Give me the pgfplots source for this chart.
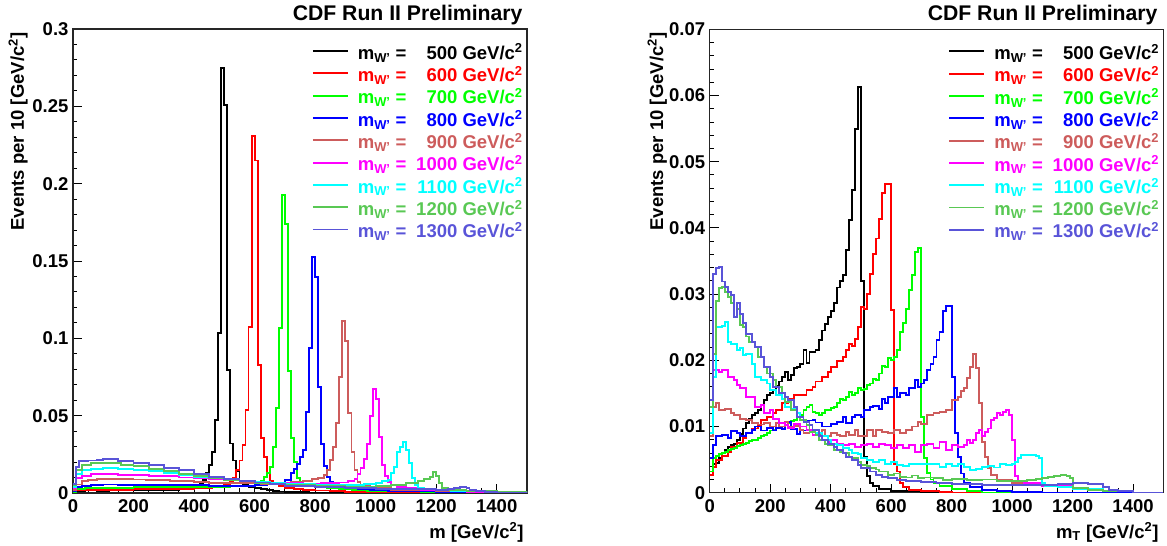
\documentclass[border=0pt]{standalone}
\usepackage{fontspec}
\setmainfont{Liberation Sans}
\usepackage{pgfplots}
\pgfplotsset{compat=1.18}

\definecolor{c500}{RGB}{0,0,0}
\definecolor{c600}{RGB}{255,0,0}
\definecolor{c700}{RGB}{0,255,0}
\definecolor{c800}{RGB}{0,0,255}
\definecolor{c900}{RGB}{205,92,92}
\definecolor{c1000}{RGB}{255,0,255}
\definecolor{c1100}{RGB}{0,255,255}
\definecolor{c1200}{RGB}{89,200,84}
\definecolor{c1300}{RGB}{89,84,216}

\newcommand{\bigfont}{\fontsize{18.5}{20}\selectfont\bfseries}
\newcommand{\lent}[2]{\textcolor{#1}{m\textsubscript{W'} =\makebox[2.75em][r]{#2} GeV/c\textsuperscript{2}}}

\pgfplotsset{
  rootaxis/.style={
    scale only axis,
    xmin=0, xmax=1500, ymin=0,
    scaled y ticks=false,
    axis line style={black!85, line width=1.1pt},
    tick align=inside, xtick pos=bottom, ytick pos=left,
    major tick length=9pt, minor tick length=4.5pt,
    every tick/.style={black, line width=0.9pt},
    xtick={0,200,...,1400},
    xticklabels={0,200,400,600,800,1000,1200,1400},
    minor x tick num=3, minor y tick num=4,
    tick label style={font=\bigfont},
    xticklabel style={yshift=-3pt},
    yticklabel style={xshift=-1pt},
    every axis plot/.append style={const plot mark left, line width=1.9pt, no marks},
    legend cell align=left,
    legend image code/.code={\draw[#1] (0pt,4.8pt) -- (35pt,4.8pt);},
    legend style={draw=none, fill=none, anchor=north west, inner sep=0pt,
      font=\bigfont, row sep=0pt,
      nodes={inner sep=0pt, text height=14.5pt, text depth=7.8pt},
      /tikz/every odd column/.append style={column sep=9pt}},
  }
}

\begin{document}
\begin{tikzpicture}
\useasboundingbox (0,0) rectangle (1167pt,546pt);

% ---------- left: invariant mass ----------
\begin{axis}[rootaxis, at={(73pt,53pt)}, anchor=south west,
  width=454pt, height=464pt, ymax=0.3,
  ytick={0,0.05,0.1,0.15,0.2,0.25,0.3},
  yticklabels={0,0.05,0.1,0.15,0.2,0.25,0.3},
  legend style={at={(axis description cs:0.5258,0.9665)}}]

\addplot[c500] coordinates {(0,0.0005)(10,0.0014)(40,0.0016)(80,0.0015)(120,0.0017)(160,0.0016)(200,0.0017)(240,0.0018)(280,0.0019)(320,0.0021)(350,0.0024)(370,0.0028)(390,0.0033)(400,0.004)(410,0.0048)(420,0.006)(430,0.0085)(440,0.013)(450,0.018)(460,0.0265)(470,0.047)(480,0.1035)(490,0.2745)(500,0.251)(510,0.0795)(520,0.032)(530,0.021)(540,0.014)(550,0.008)(560,0.006)(570,0.005)(580,0.004)(600,0.003)(620,0.0024)(640,0.0018)(660,0.0013)(680,0.001)(700,0.0007)(740,0.0005)(780,0.0003)(850,0.0001)(950,0)(1500,0)};
\addlegendentry{\lent{c500}{500}}

\addplot[c600] coordinates {(0,0.0006)(10,0.0018)(40,0.002)(80,0.0021)(120,0.0022)(160,0.0021)(200,0.0023)(240,0.0024)(280,0.0025)(320,0.0026)(360,0.0028)(400,0.003)(430,0.0033)(460,0.0037)(480,0.0042)(500,0.005)(510,0.006)(520,0.0075)(530,0.0098)(540,0.015)(550,0.021)(560,0.031)(570,0.0537)(580,0.1075)(590,0.2308)(600,0.215)(610,0.0827)(620,0.0358)(630,0.0235)(640,0.013)(650,0.0075)(660,0.0055)(680,0.0043)(700,0.0035)(730,0.0028)(760,0.0022)(800,0.0016)(850,0.0011)(900,0.0007)(1000,0.0004)(1100,0.0002)(1200,0)(1500,0)};
\addlegendentry{\lent{c600}{600}}

\addplot[c700] coordinates {(0,0.0008)(10,0.0025)(40,0.003)(80,0.0032)(120,0.0035)(200,0.0036)(280,0.0037)(360,0.0038)(440,0.004)(520,0.0042)(580,0.0045)(600,0.005)(620,0.008)(630,0.0105)(640,0.0127)(650,0.017)(660,0.030)(670,0.0547)(680,0.1064)(690,0.1926)(700,0.1737)(710,0.0789)(720,0.0354)(730,0.0202)(740,0.0095)(750,0.0063)(760,0.005)(780,0.0042)(800,0.0036)(840,0.003)(880,0.0025)(920,0.002)(970,0.0015)(1050,0.001)(1150,0.0006)(1250,0.0003)(1350,0)(1500,0)};
\addlegendentry{\lent{c700}{700}}

\addplot[c800] coordinates {(0,0.0015)(10,0.004)(30,0.0047)(60,0.0052)(100,0.0055)(150,0.0054)(200,0.0052)(250,0.0053)(300,0.005)(350,0.0051)(400,0.0049)(450,0.0048)(500,0.0047)(550,0.0048)(600,0.005)(640,0.0055)(680,0.0063)(700,0.0084)(720,0.013)(730,0.0153)(740,0.019)(750,0.023)(760,0.0278)(770,0.0526)(780,0.0935)(790,0.1528)(800,0.1398)(810,0.0687)(820,0.0317)(830,0.0177)(840,0.0106)(850,0.007)(860,0.0052)(880,0.0042)(900,0.0034)(940,0.0026)(980,0.002)(1040,0.0015)(1100,0.0011)(1200,0.0006)(1300,0.0003)(1400,0)(1500,0)};
\addlegendentry{\lent{c800}{800}}

\addplot[c900] coordinates {(0,0.002)(10,0.0055)(30,0.0075)(50,0.0085)(80,0.009)(120,0.0092)(160,0.0088)(200,0.0087)(240,0.0085)(280,0.0083)(320,0.0078)(360,0.0075)(400,0.007)(450,0.0067)(500,0.0065)(560,0.0062)(620,0.006)(680,0.0065)(720,0.0072)(760,0.0078)(790,0.0088)(810,0.0095)(830,0.0114)(840,0.0149)(850,0.0213)(860,0.030)(870,0.045)(880,0.0748)(890,0.1112)(900,0.0985)(910,0.0515)(920,0.0267)(930,0.0149)(940,0.0073)(950,0.0055)(960,0.0045)(980,0.0035)(1000,0.003)(1050,0.0022)(1100,0.0016)(1200,0.001)(1300,0.0005)(1400,0.0002)(1500,0)};
\addlegendentry{\lent{c900}{900}}

\addplot[c1000] coordinates {(0,0.003)(10,0.0095)(30,0.0112)(60,0.0122)(100,0.0121)(150,0.0118)(200,0.0115)(250,0.0112)(300,0.0108)(350,0.01)(400,0.0094)(450,0.0088)(500,0.0082)(550,0.0075)(600,0.007)(650,0.0065)(700,0.0062)(760,0.006)(820,0.0062)(880,0.0068)(910,0.0075)(930,0.009)(940,0.0125)(950,0.016)(960,0.0218)(970,0.0317)(980,0.0498)(990,0.0672)(1000,0.0606)(1010,0.0364)(1020,0.0181)(1030,0.0112)(1040,0.0073)(1050,0.005)(1070,0.0038)(1100,0.003)(1150,0.0022)(1200,0.0016)(1300,0.0009)(1400,0.0004)(1500,0)};
\addlegendentry{\lent{c1000}{1000}}

\addplot[c1100] coordinates {(0,0.004)(10,0.012)(30,0.015)(60,0.0158)(100,0.016)(150,0.0157)(200,0.0151)(250,0.0142)(300,0.0128)(350,0.0118)(400,0.0105)(450,0.0096)(500,0.0085)(550,0.0077)(600,0.007)(650,0.0064)(700,0.0058)(800,0.0052)(900,0.0052)(960,0.0058)(1000,0.0065)(1020,0.0075)(1040,0.0086)(1050,0.0128)(1060,0.017)(1070,0.0267)(1080,0.030)(1090,0.0332)(1100,0.028)(1110,0.0196)(1120,0.0095)(1130,0.0054)(1140,0.0035)(1160,0.0026)(1200,0.002)(1250,0.0015)(1300,0.0011)(1400,0.0005)(1500,0)};
\addlegendentry{\lent{c1100}{1100}}

\addplot[c1200] coordinates {(0,0.005)(10,0.015)(30,0.018)(60,0.0196)(110,0.0192)(160,0.018)(200,0.0172)(250,0.0158)(300,0.0142)(350,0.0125)(400,0.011)(450,0.0098)(500,0.0085)(550,0.0075)(600,0.0066)(650,0.0058)(700,0.0052)(800,0.0045)(900,0.0042)(1000,0.0045)(1050,0.005)(1100,0.0065)(1140,0.008)(1160,0.0092)(1180,0.0105)(1190,0.0134)(1200,0.011)(1210,0.0063)(1220,0.0032)(1240,0.002)(1300,0.0015)(1400,0.0008)(1500,0.0003)};
\addlegendentry{\lent{c1200}{1200}}

\addplot[c1300] coordinates {(0,0.006)(10,0.017)(20,0.0205)(50,0.021)(80,0.0215)(100,0.022)(150,0.0205)(200,0.0196)(250,0.018)(300,0.016)(350,0.0146)(400,0.0125)(450,0.0104)(500,0.009)(550,0.008)(600,0.0068)(650,0.006)(700,0.0048)(800,0.004)(900,0.0033)(1000,0.0028)(1100,0.0023)(1200,0.0022)(1240,0.0026)(1260,0.003)(1280,0.0037)(1300,0.0033)(1310,0.0022)(1330,0.0012)(1360,0.0006)(1400,0.0003)(1500,0)};
\addlegendentry{\lent{c1300}{1300}}
\end{axis}

% ---------- right: transverse mass ----------
\begin{axis}[rootaxis, at={(709.7pt,53.3pt)}, anchor=south west,
  width=453.6pt, height=463.4pt, ymax=0.07,
  ytick={0,0.01,0.02,0.03,0.04,0.05,0.06,0.07},
  yticklabels={0,0.01,0.02,0.03,0.04,0.05,0.06,0.07},
  legend style={at={(axis description cs:0.5258,0.9665)}}]

\addplot[c500] coordinates {(0,0.0027)(10,0.0044)(20,0.0045)(30,0.0052)(40,0.006)(50,0.0065)(60,0.0069)(70,0.0072)(80,0.0074)(90,0.008)(100,0.0088)(110,0.0097)(120,0.0105)(130,0.0112)(140,0.0117)(150,0.012)(160,0.0125)(170,0.0132)(180,0.014)(190,0.0147)(200,0.015)(210,0.0155)(220,0.0162)(230,0.0168)(240,0.0175)(250,0.0183)(260,0.017)(270,0.0178)(280,0.0188)(290,0.019)(300,0.0195)(310,0.0215)(320,0.0196)(330,0.0213)(340,0.0212)(350,0.0215)(360,0.023)(370,0.0245)(380,0.0255)(390,0.0266)(400,0.0275)(410,0.0286)(420,0.031)(430,0.032)(440,0.0329)(450,0.0366)(460,0.0412)(470,0.0457)(480,0.055)(490,0.0613)(500,0.032)(510,0.0054)(520,0.0025)(530,0.0015)(540,0.001)(560,0.0006)(600,0.0003)(700,0.0001)(800,0)(1500,0)};
\addlegendentry{\lent{c500}{500}}

\addplot[c600] coordinates {(0,0.0027)(10,0.0039)(20,0.0049)(40,0.0055)(60,0.0062)(70,0.0069)(90,0.0075)(110,0.0082)(120,0.009)(140,0.0097)(160,0.0102)(170,0.011)(190,0.0115)(210,0.012)(220,0.0125)(240,0.0135)(260,0.0141)(280,0.0147)(320,0.0155)(340,0.016)(350,0.0168)(370,0.0175)(390,0.0183)(400,0.019)(420,0.0199)(440,0.0205)(450,0.0216)(460,0.0225)(470,0.0222)(480,0.0232)(490,0.025)(500,0.028)(510,0.0277)(520,0.030)(530,0.033)(540,0.0361)(550,0.0384)(560,0.0414)(570,0.0453)(580,0.0466)(590,0.0466)(600,0.0276)(610,0.0044)(620,0.0032)(630,0.0014)(640,0.0008)(660,0.0004)(700,0.0002)(760,0.0001)(800,0)(1500,0)};
\addlegendentry{\lent{c600}{600}}

\addplot[c700] coordinates {(0,0.0032)(10,0.0052)(20,0.0055)(30,0.0058)(40,0.006)(50,0.0062)(60,0.0064)(70,0.0066)(80,0.0068)(90,0.007)(100,0.0072)(110,0.0074)(120,0.0075)(130,0.0078)(140,0.008)(160,0.0082)(170,0.0085)(180,0.0087)(190,0.009)(200,0.0094)(210,0.0095)(220,0.0097)(230,0.0098)(240,0.01)(250,0.0103)(260,0.0105)(270,0.0108)(280,0.011)(290,0.0115)(300,0.0118)(310,0.0125)(320,0.013)(330,0.0132)(340,0.0122)(350,0.012)(360,0.0118)(370,0.012)(380,0.0125)(400,0.0128)(410,0.013)(420,0.0135)(430,0.0142)(440,0.014)(450,0.0145)(460,0.0152)(470,0.0148)(480,0.015)(490,0.0158)(500,0.0155)(510,0.0157)(520,0.0163)(530,0.0165)(540,0.0172)(550,0.017)(560,0.018)(570,0.0192)(580,0.019)(590,0.0203)(600,0.020)(610,0.0205)(620,0.0215)(630,0.0243)(640,0.0256)(650,0.0278)(660,0.0306)(670,0.0329)(680,0.0364)(690,0.0369)(700,0.0115)(710,0.0052)(720,0.003)(730,0.002)(740,0.0015)(760,0.001)(800,0.0005)(850,0.0002)(900,0)(1500,0)};
\addlegendentry{\lent{c700}{700}}

\addplot[c800] coordinates {(0,0.0052)(10,0.0072)(20,0.0085)(40,0.0087)(60,0.0083)(70,0.0093)(90,0.009)(100,0.0085)(120,0.009)(140,0.0095)(150,0.01)(170,0.0094)(190,0.0098)(210,0.0094)(220,0.0098)(240,0.0096)(250,0.0107)(270,0.0096)(290,0.0089)(300,0.0094)(320,0.0109)(340,0.011)(350,0.0106)(370,0.01)(390,0.01)(400,0.0104)(420,0.0107)(440,0.0115)(450,0.0105)(470,0.0115)(480,0.0117)(500,0.0115)(510,0.0125)(530,0.013)(540,0.0131)(560,0.0126)(570,0.0142)(580,0.0135)(590,0.0145)(610,0.0158)(620,0.0145)(630,0.015)(650,0.0148)(660,0.0158)(680,0.017)(690,0.016)(700,0.0165)(710,0.017)(720,0.0185)(730,0.0195)(740,0.0205)(750,0.023)(760,0.0243)(770,0.0274)(780,0.0282)(790,0.0282)(800,0.0175)(810,0.009)(820,0.0054)(830,0.0029)(840,0.0014)(860,0.0008)(900,0.0004)(950,0.0002)(1000,0.0001)(1100,0)(1500,0)};
\addlegendentry{\lent{c800}{800}}

\addplot[c900] coordinates {(0,0.0085)(10,0.013)(20,0.0135)(30,0.0125)(50,0.0127)(70,0.012)(80,0.0118)(100,0.0112)(120,0.011)(140,0.0105)(160,0.0103)(180,0.0105)(200,0.01)(220,0.0105)(230,0.01)(250,0.0107)(260,0.01)(280,0.0101)(300,0.0095)(310,0.009)(330,0.0095)(350,0.0087)(370,0.0095)(380,0.0085)(400,0.009)(420,0.0087)(430,0.0085)(450,0.0092)(460,0.0087)(480,0.0095)(490,0.0085)(500,0.0085)(520,0.0095)(540,0.0085)(550,0.0095)(570,0.0092)(590,0.009)(610,0.0095)(630,0.009)(650,0.0095)(670,0.01)(690,0.0107)(700,0.0104)(720,0.0117)(740,0.012)(760,0.0122)(780,0.0125)(800,0.014)(820,0.0145)(830,0.0153)(840,0.0158)(850,0.0173)(860,0.019)(870,0.021)(880,0.0188)(890,0.0135)(900,0.0077)(910,0.0054)(920,0.0037)(930,0.0027)(950,0.002)(1000,0.0015)(1100,0.001)(1200,0.0005)(1300,0.0002)(1400,0)(1500,0)};
\addlegendentry{\lent{c900}{900}}

\addplot[c1000] coordinates {(0,0.009)(10,0.0185)(30,0.0183)(40,0.0186)(60,0.0175)(80,0.017)(90,0.0163)(100,0.0158)(120,0.0145)(140,0.0145)(150,0.013)(170,0.0133)(180,0.012)(200,0.0125)(210,0.0112)(230,0.0105)(250,0.0102)(260,0.0098)(280,0.0104)(300,0.01)(320,0.0095)(340,0.0087)(350,0.009)(370,0.0085)(390,0.0077)(400,0.008)(420,0.0074)(440,0.0072)(460,0.0074)(480,0.0069)(500,0.0072)(520,0.0074)(540,0.0069)(560,0.0074)(580,0.0072)(600,0.0067)(620,0.0072)(640,0.0067)(660,0.0072)(680,0.0062)(700,0.0072)(720,0.0074)(740,0.0067)(760,0.0077)(780,0.0064)(800,0.0072)(820,0.0069)(840,0.0072)(850,0.0079)(860,0.0075)(870,0.008)(880,0.009)(890,0.0095)(900,0.0085)(910,0.0092)(920,0.0097)(930,0.011)(940,0.0113)(950,0.012)(960,0.0118)(970,0.0122)(980,0.0125)(990,0.0118)(1000,0.0079)(1010,0.0025)(1020,0.0018)(1040,0.0014)(1100,0.001)(1200,0.0005)(1300,0.0002)(1400,0)(1500,0)};
\addlegendentry{\lent{c1000}{1000}}

\addplot[c1100] coordinates {(0,0.009)(10,0.0175)(20,0.025)(40,0.0252)(50,0.0258)(60,0.0228)(70,0.0225)(90,0.0215)(100,0.0218)(110,0.0208)(120,0.021)(140,0.0195)(150,0.0175)(170,0.017)(190,0.0165)(200,0.0155)(220,0.0147)(240,0.0142)(250,0.013)(270,0.0127)(290,0.012)(300,0.011)(320,0.0102)(340,0.0095)(350,0.009)(370,0.0085)(390,0.008)(400,0.0074)(420,0.0072)(440,0.0067)(460,0.0064)(470,0.006)(490,0.0058)(500,0.0052)(520,0.0049)(540,0.0047)(560,0.0049)(580,0.0044)(600,0.0046)(620,0.0042)(640,0.0041)(660,0.0043)(670,0.0044)(700,0.0044)(720,0.0043)(740,0.0044)(760,0.0039)(780,0.0043)(800,0.0041)(820,0.0044)(840,0.0039)(860,0.0034)(880,0.0036)(900,0.0039)(920,0.0041)(940,0.0038)(960,0.0044)(980,0.0042)(1000,0.0044)(1010,0.0047)(1020,0.0052)(1030,0.0057)(1080,0.0055)(1090,0.0053)(1100,0.0014)(1110,0.001)(1150,0.0008)(1200,0.0005)(1300,0.0002)(1400,0)(1500,0)};
\addlegendentry{\lent{c1100}{1100}}

\addplot[c1200] coordinates {(0,0.013)(10,0.021)(20,0.029)(30,0.0309)(40,0.0311)(50,0.0303)(60,0.0296)(70,0.0286)(80,0.0266)(90,0.0278)(100,0.0253)(110,0.025)(120,0.0236)(130,0.0228)(150,0.022)(160,0.0205)(180,0.019)(190,0.018)(210,0.017)(220,0.016)(240,0.015)(250,0.0137)(270,0.0125)(290,0.0115)(300,0.011)(320,0.0102)(330,0.0092)(350,0.0087)(360,0.008)(380,0.0074)(390,0.0072)(410,0.0064)(430,0.0062)(440,0.006)(460,0.0054)(470,0.0052)(490,0.0047)(500,0.0042)(520,0.004)(530,0.0037)(550,0.0035)(560,0.0032)(580,0.0032)(590,0.0027)(610,0.0029)(630,0.0024)(650,0.0023)(670,0.0026)(690,0.0022)(710,0.0023)(740,0.0022)(770,0.0019)(800,0.0021)(850,0.0019)(900,0.002)(950,0.0018)(1000,0.0017)(1050,0.0019)(1080,0.0021)(1100,0.0022)(1120,0.0024)(1140,0.0025)(1160,0.0027)(1180,0.0025)(1190,0.0022)(1200,0.0007)(1250,0.0004)(1300,0.0002)(1400,0)(1500,0)};
\addlegendentry{\lent{c1200}{1200}}

\addplot[c1300] coordinates {(0,0.014)(10,0.0331)(20,0.0339)(30,0.0341)(40,0.0319)(50,0.0311)(60,0.0303)(70,0.0298)(80,0.0266)(90,0.0286)(100,0.027)(110,0.0256)(120,0.024)(140,0.0228)(150,0.022)(170,0.0205)(180,0.019)(200,0.0175)(210,0.016)(230,0.015)(250,0.0145)(260,0.014)(280,0.013)(290,0.0115)(310,0.0107)(330,0.0102)(340,0.0095)(360,0.0085)(370,0.008)(390,0.0074)(410,0.0069)(420,0.0064)(440,0.006)(450,0.0054)(470,0.0049)(490,0.0042)(500,0.0037)(530,0.0032)(550,0.0027)(570,0.0024)(590,0.0022)(620,0.0019)(650,0.0017)(700,0.0016)(750,0.0014)(800,0.0013)(900,0.0012)(1000,0.0011)(1100,0.0012)(1150,0.0013)(1200,0.0014)(1250,0.0013)(1300,0.0008)(1320,0.0004)(1350,0.0002)(1400,0)(1500,0)};
\addlegendentry{\lent{c1300}{1300}}
\end{axis}

% titles and axis labels
\node[anchor=east, font=\fontsize{21.2}{23}\selectfont\bfseries] at (526pt,530.5pt) {CDF Run II Preliminary};
\node[anchor=east, font=\fontsize{21.2}{23}\selectfont\bfseries] at (1161pt,530.5pt) {CDF Run II Preliminary};
\node[anchor=base east, font=\bigfont] at (527pt,8pt) {m [GeV/c\textsuperscript{2}]};
\node[anchor=base east, font=\bigfont] at (1162pt,8pt) {m\textsubscript{T} [GeV/c\textsuperscript{2}]};
\node[anchor=base east, rotate=90, font=\bigfont] at (24pt,517pt) {Events per 10 [GeV/c\textsuperscript{2}]};
\node[anchor=base east, rotate=90, font=\bigfont] at (663pt,517pt) {Events per 10 [GeV/c\textsuperscript{2}]};
\end{tikzpicture}
\end{document}
